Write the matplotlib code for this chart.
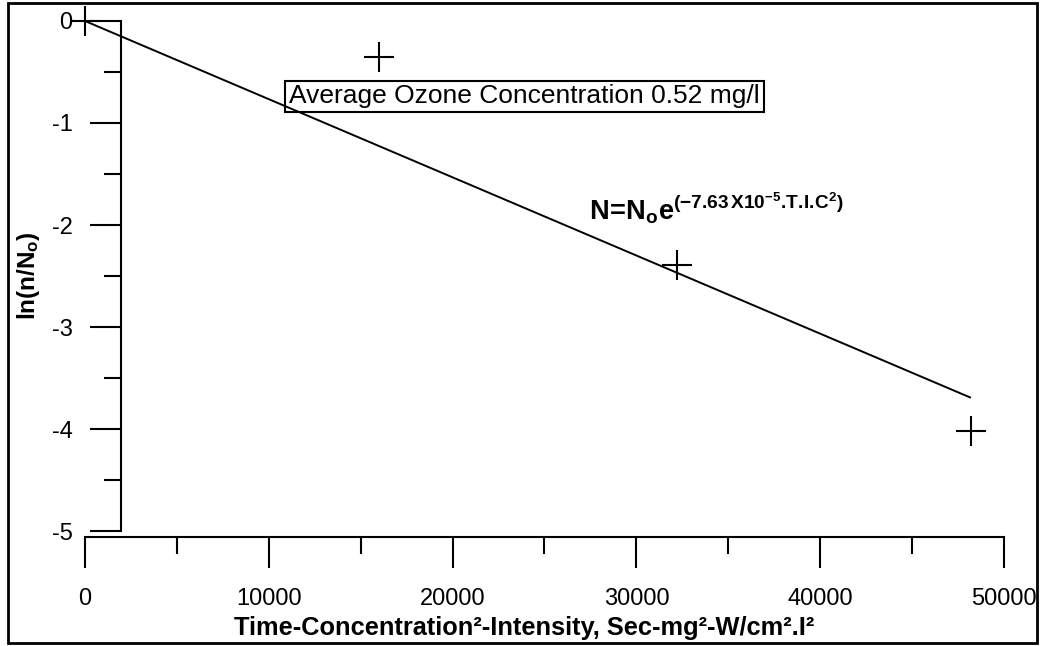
import matplotlib.pyplot as plt
from matplotlib.patches import Rectangle
from matplotlib.ticker import MultipleLocator

plt.rcParams['font.family'] = ['Liberation Sans', 'DejaVu Sans']
plt.rcParams['mathtext.fontset'] = 'custom'
plt.rcParams['mathtext.rm'] = 'Liberation Sans'
plt.rcParams['mathtext.it'] = 'Liberation Sans:italic'
plt.rcParams['mathtext.bf'] = 'Liberation Sans:bold'
plt.rcParams['axes.unicode_minus'] = False

# measured points: T.I.C^2 vs ln(n/No)
tic = [0, 16000, 32200, 48200]
ln_ratio = [0, -0.35, -2.39, -4.02]

# regression line end points
fit_x = [0, 48150]
fit_y = [0, -3.69]

x_ticks = [0, 10000, 20000, 30000, 40000, 50000]
y_ticks = [0, -1, -2, -3, -4, -5]

fig = plt.figure(figsize=(10.44, 6.46), dpi=100)
ax = fig.add_axes([0.0814, 0.178, 0.8803, 0.7895])

ax.plot(fit_x, fit_y, color='black', lw=1.4)
ax.plot(tic, ln_ratio, linestyle='none', marker='+', color='black',
        markersize=22, markeredgewidth=1.5, clip_on=False)

ax.set_xlim(0, 50000)
ax.set_ylim(-5, 0)
ax.set_xticks(x_ticks)
ax.set_yticks(y_ticks)
ax.xaxis.set_minor_locator(MultipleLocator(5000))
ax.yaxis.set_minor_locator(MultipleLocator(0.5))

# axes look
ax.spines['top'].set_visible(False)
ax.spines['right'].set_visible(False)
ax.spines['left'].set_position(('data', 1960))
ax.spines['bottom'].set_position(('outward', 4.3))
for s in ['left', 'bottom']:
    ax.spines[s].set_linewidth(1.5)
ax.tick_params(which='major', direction='out', length=22, width=1.5, labelsize=17)
ax.tick_params(which='minor', direction='out', length=12, width=1.5)
ax.tick_params(axis='y', which='major', pad=13)
ax.tick_params(axis='x', which='major', pad=15)

ax.set_xlabel('Time-Concentration²-Intensity, Sec-mg²-W/cm².I²',
              fontsize=18.3, fontweight='bold')
ax.xaxis.set_label_coords(0.478, -0.19)
ax.xaxis.label.set_va('center')
ax.set_ylabel(r'ln(n/N$_\mathbf{o}$)', fontsize=17.5, fontweight='bold')
ax.yaxis.set_label_coords(-0.061, 0.5)
ax.yaxis.label.set_va('center')

ax.text(23910, -0.74, 'Average Ozone Concentration 0.52 mg/l',
        ha='center', va='center', fontsize=19,
        bbox=dict(boxstyle='square,pad=0.15', fc='none', ec='black', lw=1.5))

ax.text(27420, -1.95,
        r'$\mathbf{N\!=\!N_oe^{(-7.63\,X10^{-5}.\!T.\!I.\!C^{2})}}$',
        ha='left', va='baseline', fontsize=19.5)

# border round the whole figure
fig.patches.append(Rectangle((0.0077, 0.0046), 0.9856, 0.9907,
                             transform=fig.transFigure, fill=False,
                             lw=2, ec='black'))

fig.savefig('out.png', dpi=100)
